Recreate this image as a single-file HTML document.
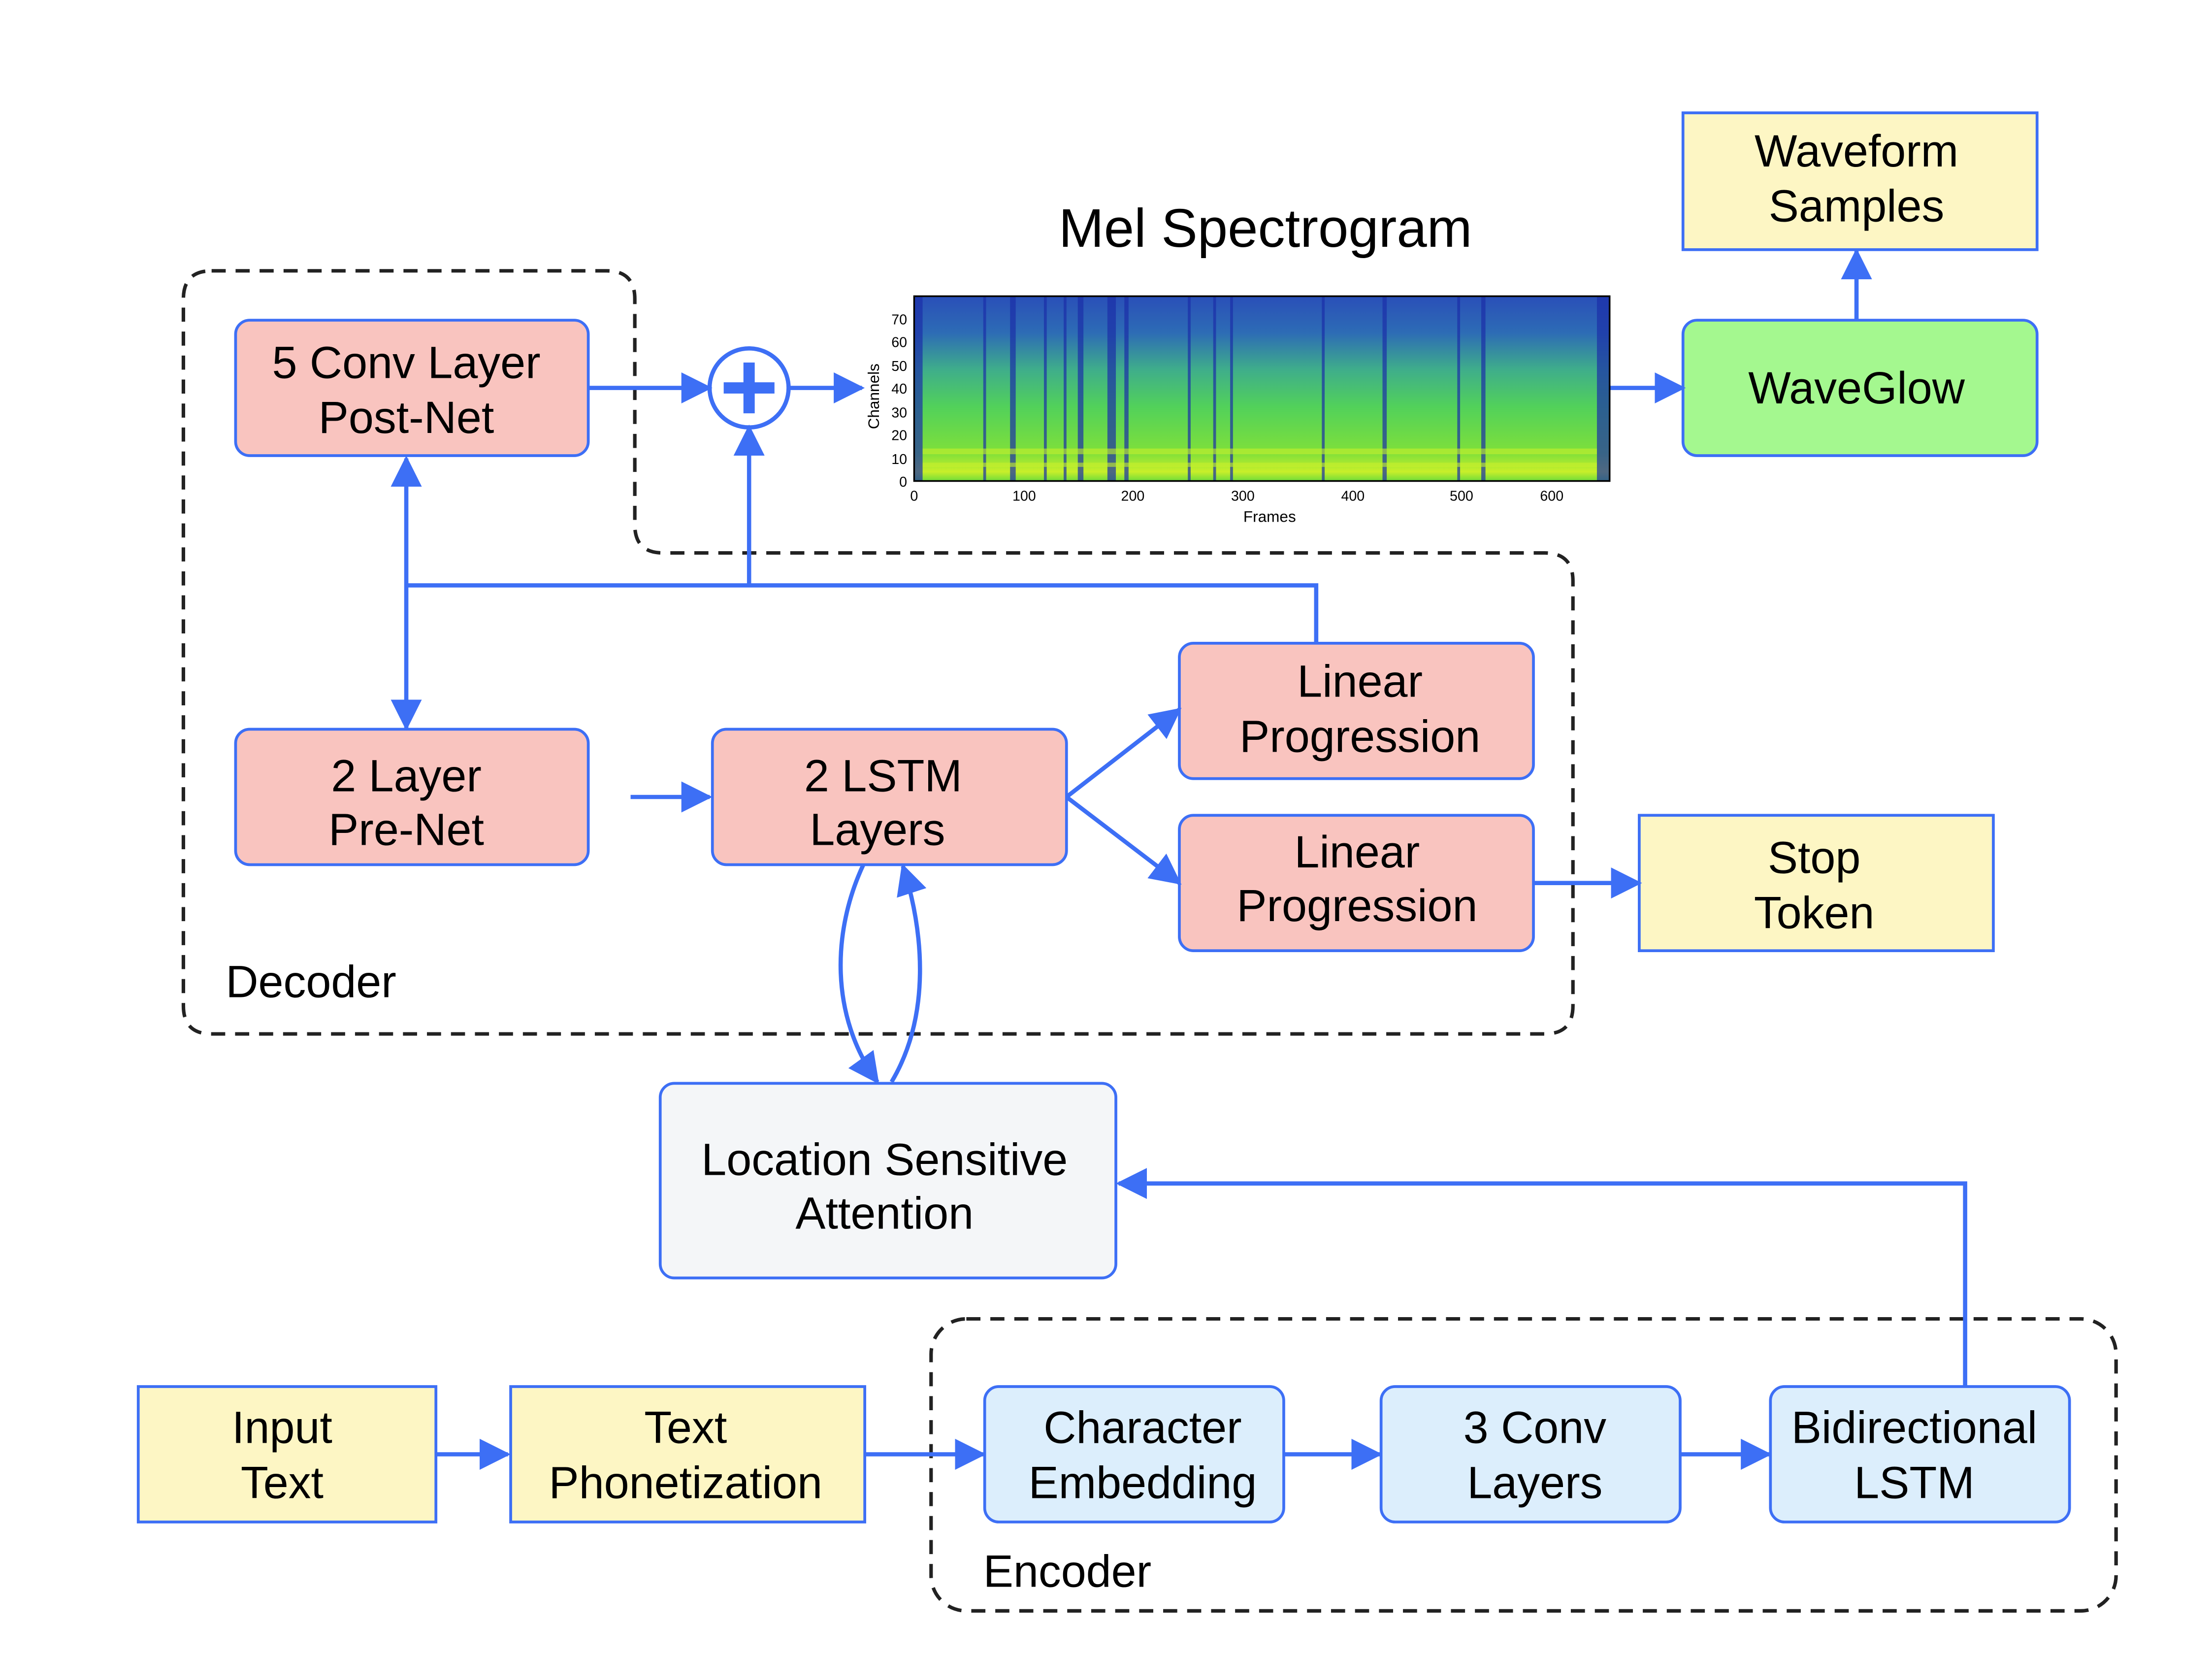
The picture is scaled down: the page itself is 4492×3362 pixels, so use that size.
<!DOCTYPE html>
<html><head><meta charset="utf-8"><style>html,body{margin:0;padding:0;background:#fff}svg{display:block}</style></head>
<body>
<svg width="4492" height="3362" viewBox="0 0 1568 1174" preserveAspectRatio="none" xmlns="http://www.w3.org/2000/svg" font-family="Liberation Sans, sans-serif">
<defs>
<marker id="a" markerWidth="22" markerHeight="22" refX="20" refY="11" orient="auto" markerUnits="userSpaceOnUse" viewBox="0 0 22 22"><path d="M0,0 L22,11 L0,22 z" fill="#3d6ff5"/></marker>
<linearGradient id="sg" x1="0" y1="0" x2="0" y2="1">
<stop offset="0" stop-color="#2a4fb8"/><stop offset="0.2" stop-color="#2d6cb5"/><stop offset="0.4" stop-color="#3fae8a"/><stop offset="0.6" stop-color="#52d15a"/><stop offset="0.85" stop-color="#7fe03a"/><stop offset="0.95" stop-color="#c8ef2a"/><stop offset="1" stop-color="#6fdc3a"/>
</linearGradient>
</defs>
<rect width="1568" height="1174" fill="#fff"/>
<g fill="none" stroke="#222" stroke-width="2.5" stroke-dasharray="10,7">
<path d="M150,192 H430 Q450,192 450,212 V372 Q450,392 470,392 H1095 Q1115,392 1115,412 V713 Q1115,733 1095,733 H150 Q130,733 130,713 V212 Q130,192 150,192 Z"/>
<rect x="660" y="935" width="840" height="207" rx="25"/>
</g>
<g stroke="#3d6ff5" stroke-width="2">
<rect x="1193" y="80" width="251" height="97" fill="#fdf6c4"/>
<rect x="1193" y="227" width="251" height="96" rx="10" fill="#a4f88f"/>
<rect x="167" y="227" width="250" height="96" rx="10" fill="#f9c4bf"/>
<rect x="167" y="517" width="250" height="96" rx="10" fill="#f9c4bf"/>
<rect x="505" y="517" width="251" height="96" rx="10" fill="#f9c4bf"/>
<rect x="836" y="456" width="251" height="96" rx="10" fill="#f9c4bf"/>
<rect x="836" y="578" width="251" height="96" rx="10" fill="#f9c4bf"/>
<rect x="1162" y="578" width="251" height="96" fill="#fdf6c4"/>
<rect x="468" y="768" width="323" height="138" rx="10" fill="#f4f6f8"/>
<rect x="98" y="983" width="211" height="96" fill="#fdf6c4"/>
<rect x="362" y="983" width="251" height="96" fill="#fdf6c4"/>
<rect x="698" y="983" width="212" height="96" rx="10" fill="#dceefc"/>
<rect x="979" y="983" width="212" height="96" rx="10" fill="#dceefc"/>
<rect x="1255" y="983" width="212" height="96" rx="10" fill="#dceefc"/>
</g>
<g fill="none" stroke="#3d6ff5" stroke-width="3">
<line x1="1316" y1="227" x2="1316" y2="178" marker-end="url(#a)"/>
<line x1="417" y1="275" x2="503" y2="275" marker-end="url(#a)"/>
<circle cx="531" cy="275" r="28" stroke-width="3"/>
<line x1="559" y1="275" x2="611" y2="275" marker-end="url(#a)"/>
<line x1="1141" y1="275" x2="1193" y2="275" marker-end="url(#a)"/>
<line x1="531" y1="415" x2="531" y2="303" marker-end="url(#a)"/>
<polyline points="288,415 933,415 933,456"/>
<line x1="288" y1="415" x2="288" y2="325" marker-end="url(#a)"/>
<line x1="288" y1="415" x2="288" y2="516" marker-end="url(#a)"/>
<line x1="447" y1="565" x2="503" y2="565" marker-end="url(#a)"/>
<line x1="756" y1="565" x2="836" y2="503" marker-end="url(#a)"/>
<line x1="756" y1="565" x2="836" y2="626" marker-end="url(#a)"/>
<line x1="1087" y1="626" x2="1162" y2="626" marker-end="url(#a)"/>
<path d="M612,613 C590,660 588,720 622,767" marker-end="url(#a)"/>
<path d="M632,767 C660,720 655,660 640,614" marker-end="url(#a)"/>
<polyline points="1393,983 1393,839 793,839" marker-end="url(#a)"/>
<line x1="309" y1="1031" x2="360" y2="1031" marker-end="url(#a)"/>
<line x1="613" y1="1031" x2="697" y2="1031" marker-end="url(#a)"/>
<line x1="910" y1="1031" x2="978" y2="1031" marker-end="url(#a)"/>
<line x1="1191" y1="1031" x2="1254" y2="1031" marker-end="url(#a)"/>
</g>
<g stroke="#3d6ff5" stroke-width="8"><line x1="513" y1="275" x2="549" y2="275"/><line x1="531" y1="257" x2="531" y2="293"/></g>
<rect x="648" y="210" width="493" height="131" fill="url(#sg)"/>
<g fill="#1b2fa8" opacity="0.7">
<rect x="648" y="210" width="6" height="131"/>
<rect x="697" y="210" width="2" height="131"/><rect x="716" y="210" width="4" height="131"/>
<rect x="740" y="210" width="2" height="131"/><rect x="754" y="210" width="2" height="131"/>
<rect x="764" y="210" width="4" height="131"/><rect x="785" y="210" width="6" height="131"/>
<rect x="797" y="210" width="3" height="131"/><rect x="842" y="210" width="2" height="131"/>
<rect x="860" y="210" width="2" height="131"/><rect x="872" y="210" width="2" height="131"/>
<rect x="937" y="210" width="2" height="131"/><rect x="980" y="210" width="3" height="131"/>
<rect x="1033" y="210" width="2" height="131"/><rect x="1050" y="210" width="3" height="131"/>
<rect x="1132" y="210" width="9" height="131"/>
</g>
<g fill="#c6f02d" opacity="0.6"><rect x="654" y="318" width="478" height="4"/><rect x="654" y="328" width="478" height="3"/></g>
<rect x="648" y="210" width="493" height="131" fill="none" stroke="#000" stroke-width="1.2"/>
<g font-size="10" fill="#000" text-anchor="end">
<text x="643" y="345">0</text><text x="643" y="329">10</text><text x="643" y="312">20</text><text x="643" y="296">30</text><text x="643" y="279">40</text><text x="643" y="263">50</text><text x="643" y="246">60</text><text x="643" y="230">70</text>
</g>
<g font-size="10" fill="#000" text-anchor="middle">
<text x="648" y="355">0</text><text x="726" y="355">100</text><text x="803" y="355">200</text><text x="881" y="355">300</text><text x="959" y="355">400</text><text x="1036" y="355">500</text><text x="1100" y="355">600</text>
<text x="900" y="370" font-size="11">Frames</text>
<text transform="translate(623,281) rotate(-90)" font-size="11">Channels</text>
</g>
<g font-size="32" fill="#000" text-anchor="middle">
<text x="897" y="175" font-size="38.5">Mel Spectrogram</text>
<text x="1316" y="118">Waveform</text><text x="1316" y="157">Samples</text>
<text x="1316" y="286">WaveGlow</text>
<text x="288" y="268">5 Conv Layer</text><text x="288" y="307">Post-Net</text>
<text x="288" y="561">2 Layer</text><text x="288" y="599">Pre-Net</text>
<text x="626" y="561">2 LSTM</text><text x="622" y="599">Layers</text>
<text x="964" y="494">Linear</text><text x="964" y="533">Progression</text>
<text x="962" y="615">Linear</text><text x="962" y="653">Progression</text>
<text x="1286" y="619">Stop</text><text x="1286" y="658">Token</text>
<text x="627" y="833">Location Sensitive</text><text x="627" y="871">Attention</text>
<text x="200" y="1023">Input</text><text x="200" y="1062">Text</text>
<text x="486" y="1023">Text</text><text x="486" y="1062">Phonetization</text>
<text x="810" y="1023">Character</text><text x="810" y="1062">Embedding</text>
<text x="1088" y="1023">3 Conv</text><text x="1088" y="1062">Layers</text>
<text x="1357" y="1023">Bidirectional</text><text x="1357" y="1062">LSTM</text>
<text x="160" y="707" text-anchor="start">Decoder</text>
<text x="697" y="1125" text-anchor="start">Encoder</text>
</g>
</svg>
</body></html>
